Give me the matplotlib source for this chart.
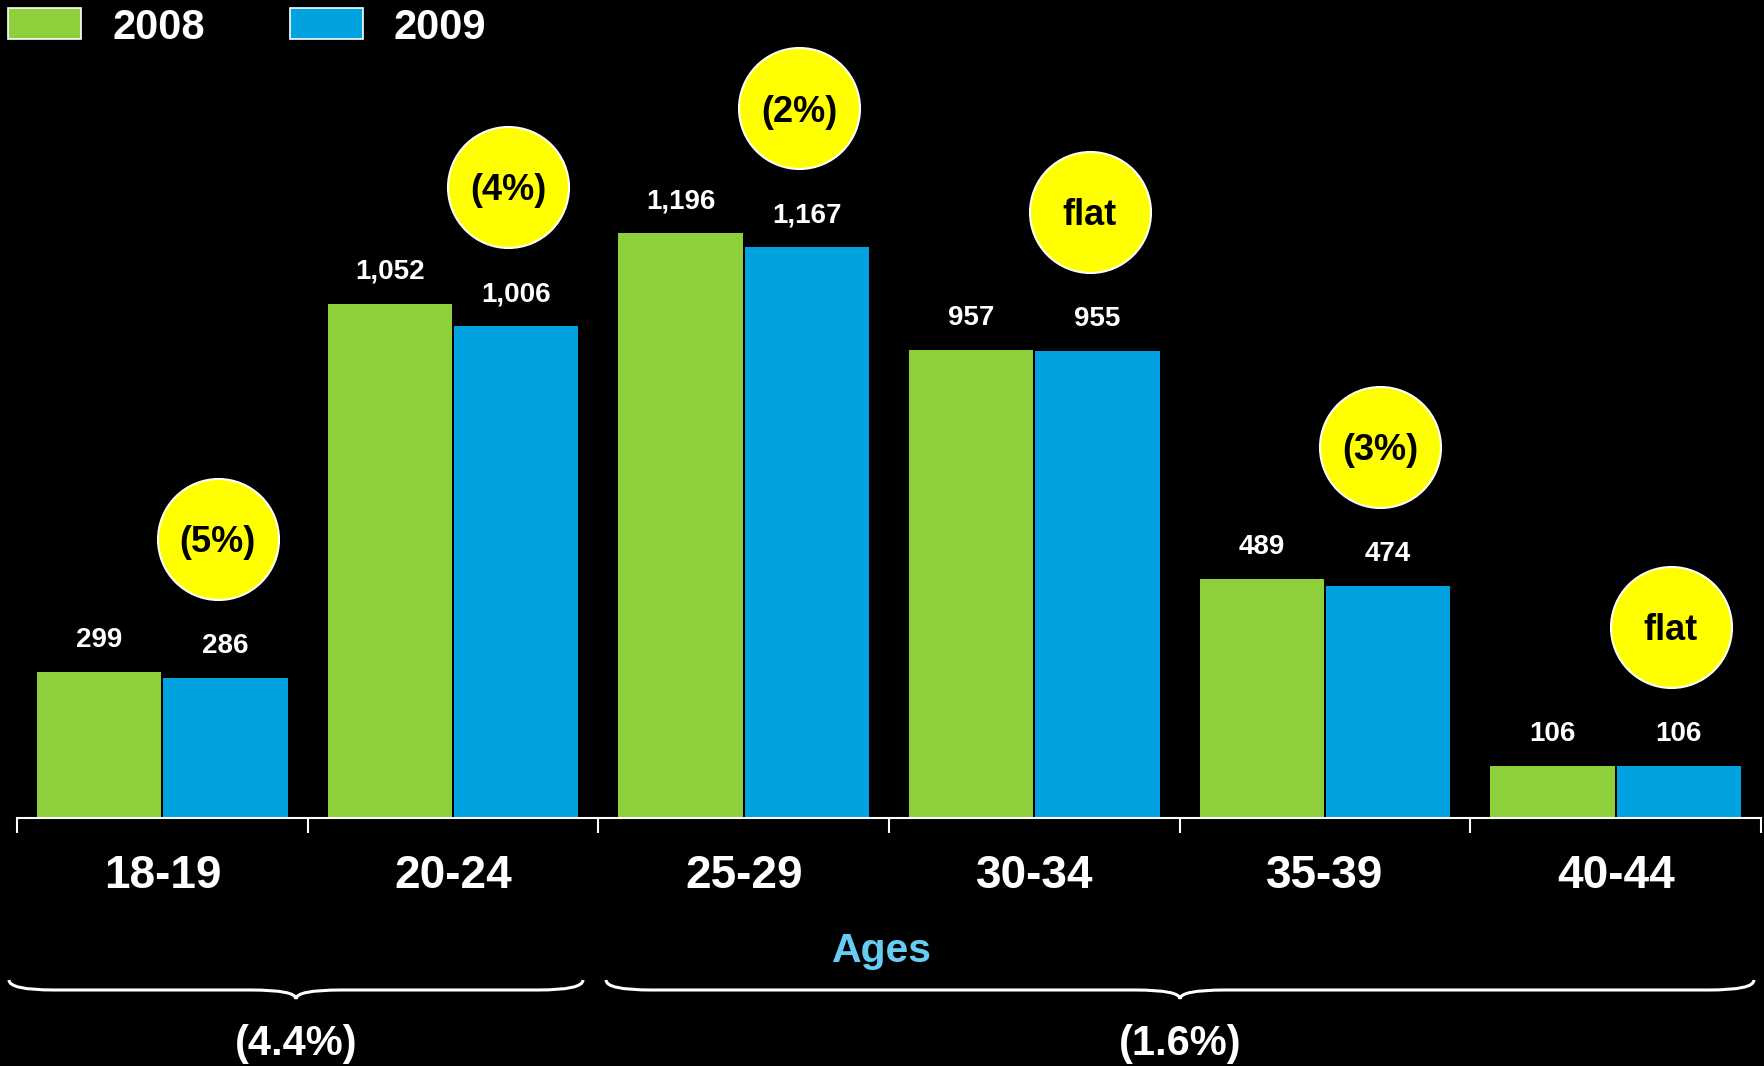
import numpy as np
import matplotlib
matplotlib.use("Agg")
import matplotlib.pyplot as plt
from matplotlib.path import Path
from matplotlib.patches import PathPatch, Rectangle
from matplotlib.transforms import blended_transform_factory

plt.rcParams['font.family'] = ['Liberation Sans', 'DejaVu Sans']
plt.rcParams['font.weight'] = 'bold'

# data
ages = ['18-19', '20-24', '25-29', '30-34', '35-39', '40-44']
v2008 = [299, 1052, 1196, 957, 489, 106]
v2009 = [286, 1006, 1167, 955, 474, 106]
changes = ['(5%)', '(4%)', '(2%)', 'flat', '(3%)', 'flat']
groups = ['(4.4%)', '(1.6%)']
group_spans = [(0, 1), (2, 5)]
years = ['2008', '2009']

green = '#8ECF3C'
blue = '#00A3E0'
W, H = 1765, 1066

fig = plt.figure(figsize=(W / 100, H / 100), dpi=100, facecolor='black')
ax = fig.add_axes([17 / W, (H - 818) / H, (1761 - 17) / W, 818 / H])
ax.set_facecolor('black')

x = np.arange(len(ages))
bw = 0.428
b1 = ax.bar(x - 0.2175, v2008, bw, color=green, zorder=2)
b2 = ax.bar(x + 0.2175, v2009, bw, color=blue, zorder=2)

ax.set_xlim(-0.5, len(ages) - 0.5)
ax.set_ylim(0, 1673)

for spine in ['top', 'left', 'right']:
    ax.spines[spine].set_visible(False)
ax.spines['bottom'].set_color('white')
ax.spines['bottom'].set_linewidth(1.5)
ax.set_yticks([])
ax.set_xticks([])
ax.set_xticks(np.arange(-0.5, len(ages)), minor=True)
ax.tick_params(axis='x', which='minor', direction='out', length=11,
               width=1.5, color='white', labelbottom=False)

# value labels
for bars, vals in [(b1, v2008), (b2, v2009)]:
    for r, v in zip(bars, vals):
        ax.annotate(f'{v:,}', (r.get_x() + r.get_width() / 2, v),
                    xytext=(0, 18), textcoords='offset points',
                    ha='center', va='baseline', color='white',
                    fontsize=20, fontweight='bold')

# yellow change bubbles
cx = x + 0.19
cy = np.array(v2009) + 285
ax.scatter(cx, cy, s=7590, color='#FFFF00', edgecolors='white',
           linewidths=1.5, zorder=4, clip_on=False)
for xi, yi, t in zip(cx, cy, changes):
    ax.text(xi, yi, t, ha='center', va='center_baseline', fontsize=26,
            fontweight='bold', color='black', zorder=5)

def fy(py):
    return 1 - py / H

tr = blended_transform_factory(ax.transData, fig.transFigure)
for xi, lab in zip(x, ages):
    fig.text(xi, fy(888), lab, transform=tr, ha='center', va='baseline',
             fontsize=33, fontweight='bold', color='white')

fig.text(882 / W, fy(962), 'Ages', ha='center', va='baseline', fontsize=29.5,
         fontweight='bold', color='#66CCF5')

# curly braces under the age groups
def brace(x0, x1, ytop=980, yline=990, ytip=999, q=45):
    xm = (x0 + x1) / 2
    pts = [(x0, ytop), (x0, yline), (x0 + q, yline),
           (xm - q, yline), (xm, yline), (xm, ytip),
           (xm, yline), (xm + q, yline),
           (x1 - q, yline), (x1, yline), (x1, ytop)]
    codes = [Path.MOVETO, Path.CURVE3, Path.CURVE3,
             Path.LINETO, Path.CURVE3, Path.CURVE3,
             Path.CURVE3, Path.CURVE3,
             Path.LINETO, Path.CURVE3, Path.CURVE3]
    verts = [(px / W, fy(py)) for px, py in pts]
    fig.add_artist(PathPatch(Path(verts, codes), transform=fig.transFigure,
                             fill=False, edgecolor='white', lw=2.2))
    return xm

brace_px = [(9, 583), (606, 1754)]
for (x0, x1), lab in zip(brace_px, groups):
    xm = brace(x0, x1)
    fig.text(xm / W, fy(1055), lab, ha='center', va='baseline', fontsize=30,
             fontweight='bold', color='white')

# legend
for left, col, yr in [(8, green, years[0]), (290, blue, years[1])]:
    fig.add_artist(Rectangle((left / W, fy(39)), 73 / W, 31 / H,
                             transform=fig.transFigure, facecolor=col,
                             edgecolor='white', lw=1.2))
    fig.text((left + 104) / W, fy(39), yr, ha='left', va='baseline',
             fontsize=30, fontweight='bold', color='white')

fig.savefig('out.png', dpi=100, facecolor='black')
